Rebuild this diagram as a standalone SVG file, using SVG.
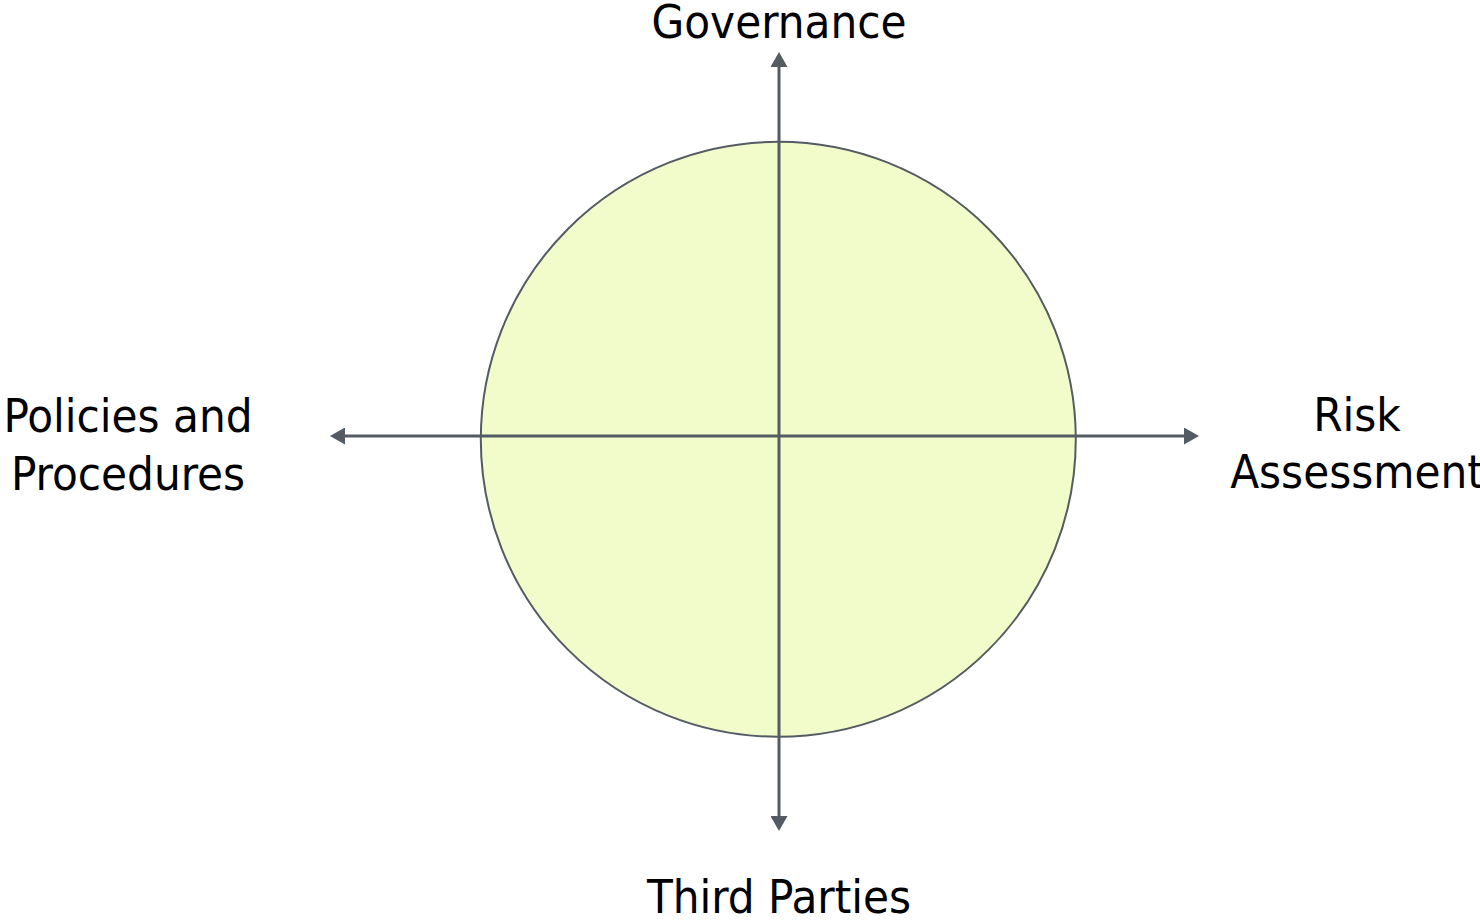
<svg xmlns="http://www.w3.org/2000/svg" width="1480" height="922" viewBox="0 0 1480 922">
<defs>
<style>
.lbl{font-family:"DejaVu Sans Condensed","DejaVu Sans",sans-serif;font-stretch:condensed;font-size:47px;fill:#000;text-anchor:middle}
.ax{stroke:#545b63;stroke-width:3;fill:none}
</style>
<marker id="ah" markerUnits="userSpaceOnUse" markerWidth="17" markerHeight="17" refX="0" refY="8.5" orient="auto" viewBox="0 0 17 17">
<path d="M0,0 L15,8.5 L0,17 z" fill="#545b63"/>
</marker>
</defs>
<rect width="1480" height="922" fill="#fff"/>
<g id="circle">
<circle cx="778.3" cy="439.3" r="297.5" fill="#f2fccb" stroke="#545b63" stroke-width="2"/>
</g>
<g id="connectors">
<line class="ax" x1="779" y1="436" x2="779" y2="67" marker-end="url(#ah)"/>
<line class="ax" x1="779" y1="436" x2="779" y2="816" marker-end="url(#ah)"/>
<line class="ax" x1="779" y1="436" x2="345" y2="436" marker-end="url(#ah)"/>
<line class="ax" x1="779" y1="436" x2="1184" y2="436" marker-end="url(#ah)"/>
</g>
<g id="governance"><text class="lbl" x="779" y="38">Governance</text></g>
<g id="policies"><text class="lbl" x="128" y="432">Policies and</text><text class="lbl" x="128" y="490">Procedures</text></g>
<g id="risk"><text class="lbl" x="1357" y="431">Risk</text><text class="lbl" x="1357" y="488">Assessment</text></g>
<g id="third"><text class="lbl" x="779" y="913">Third Parties</text></g>
</svg>
